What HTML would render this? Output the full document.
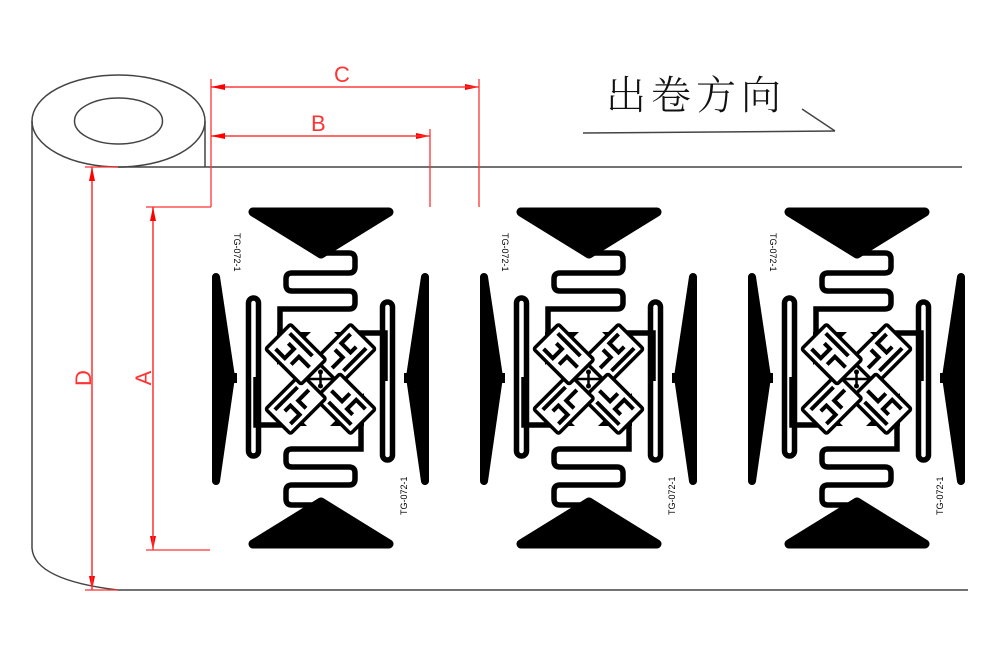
<!DOCTYPE html>
<html><head><meta charset="utf-8"><style>
html,body{margin:0;padding:0;background:#fff;}
svg{display:block;}
</style></head><body>
<svg width="1000" height="660" viewBox="0 0 1000 660" xmlns="http://www.w3.org/2000/svg">
<defs>
<g id="arm">
  <rect x="92" y="112" width="35" height="50" rx="2" fill="#fff" stroke="#000" stroke-width="3.5"/>
  <path d="M99,119 L99,132 L112,132 L112,124 M120,118 L120,150 M99,141 L110,141 L110,156" fill="none" stroke="#000" stroke-width="4"/>
</g>
<g id="tile">
  <polygon points="42,5 178,5 110,47" fill="#000" stroke="#000" stroke-width="9" stroke-linejoin="round"/>
  <polygon points="42,337 178,337 110,295" fill="#000" stroke="#000" stroke-width="9" stroke-linejoin="round"/>
  <polygon points="5,70 20,170 5,274" fill="#000" stroke="#000" stroke-width="8" stroke-linejoin="round"/>
  <polygon points="214,70 199,170 214,274" fill="#000" stroke="#000" stroke-width="8" stroke-linejoin="round"/>
  <rect x="20" y="166" width="6" height="10" fill="#000"/>
  <rect x="193" y="166" width="6" height="10" fill="#000"/>
  <g id="half">
    <path d="M109,46 L138,46 Q144,46 144,52 L144,60 Q144,66 138,66 L81,66 Q75,66 75,72 L75,78 Q75,84 81,84 L138,84 Q144,84 144,90 L144,96 Q144,102 138,102 L69,102 L69,128" fill="none" stroke="#000" stroke-width="5.5"/>
    <rect x="37.5" y="91" width="10" height="158" rx="5" fill="none" stroke="#000" stroke-width="5.5"/>
    <path d="M45,170 L45,218 L80,218" fill="none" stroke="#000" stroke-width="5.5"/>
    <polygon points="66,125 100,125 66,158" fill="#000"/>
    <polygon points="66,190 66,219 96,219" fill="#000"/>
  </g>
  <use href="#half" transform="rotate(180 109.5 172)"/>
  <g transform="rotate(45 109.5 172)">
    <use href="#arm"/>
    <use href="#arm" transform="rotate(90 109.5 172)"/>
    <use href="#arm" transform="rotate(180 109.5 172)"/>
    <use href="#arm" transform="rotate(270 109.5 172)"/>
  </g>
  <circle cx="109.5" cy="165" r="2.5" fill="#000"/>
  <circle cx="109.5" cy="179" r="2.5" fill="#000"/>
  <path d="M96,172 L123,172 M109.5,163 L109.5,181" stroke="#000" stroke-width="2.5"/>
  <text x="0" y="0" font-family="Liberation Sans, sans-serif" font-size="9" transform="translate(23,26) rotate(90)">TG-072-1</text>
  <text x="0" y="0" font-family="Liberation Sans, sans-serif" font-size="9" transform="translate(196,308) rotate(-90)">TG-072-1</text>
</g>
<marker id="ar" markerWidth="14" markerHeight="8" refX="14" refY="4" orient="auto" markerUnits="userSpaceOnUse">
  <path d="M0,1 L14,4 L0,7 Z" fill="#f00"/>
</marker>
</defs>

<g fill="none" stroke="#444" stroke-width="1.5">
  <ellipse cx="118.5" cy="121" rx="86.5" ry="46"/>
  <ellipse cx="118.5" cy="121" rx="44" ry="23"/>
  <path d="M32,121 L32,548 Q34,580 118,590"/>
  <line x1="205" y1="121" x2="205" y2="167"/>
  <line x1="118" y1="167" x2="962" y2="167"/>
  <line x1="118" y1="590" x2="968" y2="590"/>
  <line x1="583" y1="133" x2="835" y2="131"/>
  <line x1="835" y1="131" x2="802" y2="109"/>
</g>
<text x="606" y="109" font-family="Noto Serif CJK SC, serif" font-size="40" font-weight="300" letter-spacing="5" fill="#111">出卷方向</text>

<use href="#tile" transform="translate(211,207)"/>
<use href="#tile" transform="translate(479,207)"/>
<use href="#tile" transform="translate(747,207)"/>

<g stroke="#f33" stroke-width="1.3" fill="none">
  <line x1="211" y1="79" x2="211" y2="207"/>
  <line x1="479" y1="79" x2="479" y2="207"/>
  <line x1="430" y1="129" x2="430" y2="207"/>
  <line x1="211" y1="87" x2="479" y2="87" marker-end="url(#ar)"/>
  <line x1="479" y1="87" x2="211" y2="87" marker-end="url(#ar)"/>
  <line x1="211" y1="136" x2="430" y2="136" marker-end="url(#ar)"/>
  <line x1="430" y1="136" x2="211" y2="136" marker-end="url(#ar)"/>
  <line x1="146" y1="207" x2="211" y2="207"/>
  <line x1="146" y1="550" x2="210" y2="550"/>
  <line x1="153" y1="207" x2="153" y2="550" marker-end="url(#ar)"/>
  <line x1="153" y1="550" x2="153" y2="207" marker-end="url(#ar)"/>
  <line x1="85" y1="167" x2="118" y2="167"/>
  <line x1="85" y1="590" x2="118" y2="590"/>
  <line x1="92" y1="167" x2="92" y2="590" marker-end="url(#ar)"/>
  <line x1="92" y1="590" x2="92" y2="167" marker-end="url(#ar)"/>
</g>
<g font-family="Liberation Sans, sans-serif" font-size="22" fill="#f33">
  <text x="334" y="82">C</text>
  <text x="311" y="131">B</text>
  <text transform="translate(151,378) rotate(-90)" text-anchor="middle">A</text>
  <text transform="translate(91,378) rotate(-90)" text-anchor="middle">D</text>
</g>
</svg>
</body></html>
